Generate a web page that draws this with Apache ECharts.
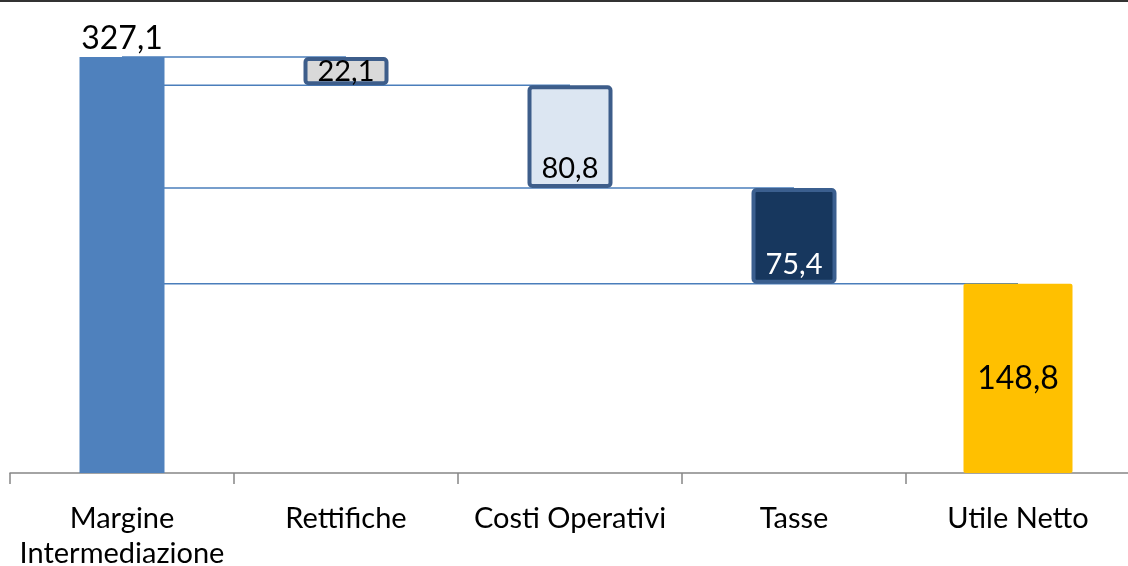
<!DOCTYPE html>
<html>
<head>
<meta charset="utf-8">
<script src="https://cdn.jsdelivr.net/npm/echarts@6/dist/echarts.min.js"></script>
<style>
  html, body { margin: 0; padding: 0; background: #fff; }
  #chart { width: 1128px; height: 566px; }
</style>
</head>
<body>
<div id="chart"></div>
<script>
var categories = ['Margine\nIntermediazione', 'Rettifiche', 'Costi Operativi', 'Tasse', 'Utile Netto'];
var values = [327.1, 22.1, 80.8, 75.4, 148.8];
var fills = ['#4f81bd', '#d9d9d9', '#dce6f2', '#17375e', '#ffc000'];
var labelColors = ['#000', '#000', '#000', '#fff', '#000'];

function fmt(v) {
  return v.toFixed(1).replace('.', ',');
}

// running totals for the floating boxes
var base = [];
var delta = [];
var level = values[0];
base.push(0);
delta.push(values[0]);
for (var i = 1; i < values.length - 1; i++) {
  level = +(level - values[i]).toFixed(1);
  base.push(level);
  delta.push(values[i]);
}
base.push('-');
delta.push('-');

var totalLast = categories.map(function (c, i) {
  return i === values.length - 1 ? values[i] : '-';
});

// connector levels: top of each step, drawn from first bar to the next step
var levels = [values[0]];
for (var j = 1; j < base.length - 1; j++) levels.push(base[j]);

var deltaData = delta.map(function (v, i) {
  if (v === '-') return v;
  var item = {
    value: v,
    itemStyle: { color: fills[i] },
    label: { color: labelColors[i] }
  };
  if (i > 0) {
    item.itemStyle.borderColor = i === 3 ? '#3b5f8f' : '#3d5d8a';
    item.itemStyle.borderWidth = 4;
    item.itemStyle.borderRadius = 3;
    item.label.position = i === 1 ? 'inside' : 'insideBottom';
    item.label.fontSize = 29;
  } else {
    item.label.position = 'top';
    item.label.fontSize = 32;
    item.label.distance = 2;
  }
  return item;
});

var lineSeries = levels.map(function (lv, k) {
  return {
    type: 'line',
    xAxisIndex: 0,
    z: 1,
    symbol: 'none',
    silent: true,
    lineStyle: { color: '#4a7ebb', width: 1.5 },
    data: [[categories[0], lv], [categories[k + 1], lv]]
  };
});

var chart = echarts.init(document.getElementById('chart'));
var options = {
  animation: false,
  textStyle: { fontFamily: 'Lato' },
  graphic: [{
    type: 'line',
    shape: { x1: 0, y1: 1, x2: 1128, y2: 1 },
    style: { stroke: '#333', lineWidth: 2 }
  }],
  grid: {
    left: 10, width: 1120, top: 28, bottom: 93,
    containLabel: false,
    outerBoundsMode: 'none'
  },
  xAxis: [{
    type: 'category',
    data: categories,
    axisLine: { lineStyle: { color: '#868686', width: 1.5 } },
    axisTick: { show: true, length: 11, lineStyle: { color: '#868686', width: 1.5 } },
    axisLabel: {
      interval: 0,
      color: '#000',
      fontSize: 29,
      lineHeight: 35,
      margin: 28,
      fontFamily: 'Lato'
    }
  }, {
    type: 'category',
    data: categories,
    show: false
  }],
  yAxis: {
    type: 'value',
    min: 0,
    max: 350,
    show: false,
    splitLine: { show: false }
  },
  series: [{
    name: 'base',
    type: 'bar',
    stack: 'w',
    xAxisIndex: 0,
    barWidth: 85,
    itemStyle: { color: 'transparent' },
    data: base
  }, {
    name: 'delta',
    type: 'bar',
    stack: 'w',
    xAxisIndex: 0,
    barWidth: 85,
    label: {
      show: true,
      fontFamily: 'Lato',
      formatter: function (p) { return fmt(p.value); }
    },
    data: deltaData
  }, {
    name: 'totale',
    type: 'bar',
    xAxisIndex: 1,
    barWidth: 109,
    itemStyle: { color: fills[4], borderRadius: 2 },
    label: {
      show: true,
      position: 'inside',
      color: '#000',
      fontSize: 32,
      fontFamily: 'Lato',
      formatter: function (p) { return fmt(p.value); }
    },
    data: totalLast
  }].concat(lineSeries)
};
chart.setOption(options);
</script>
</body>
</html>
